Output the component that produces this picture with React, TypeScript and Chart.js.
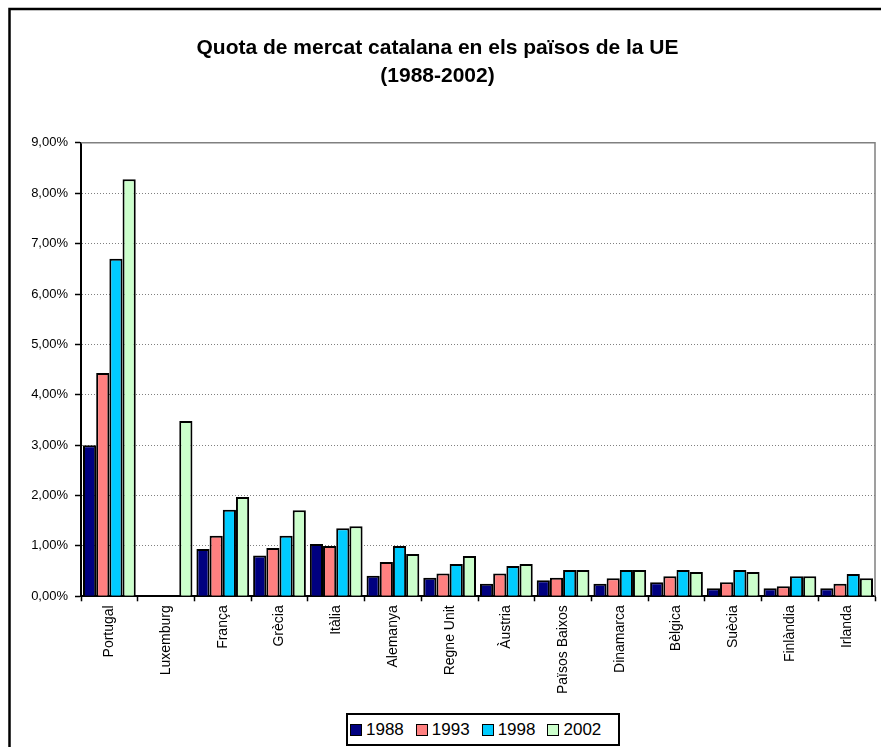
import React, { useEffect, useRef } from "react";
import { Chart, registerables } from "chart.js";

Chart.register(...registerables);

const categories = [
  "Portugal", "Luxemburg", "França", "Grècia", "Itàlia", "Alemanya", "Regne Unit",
  "Àustria", "Països Baixos", "Dinamarca", "Bèlgica", "Suècia", "Finlàndia", "Irlanda",
];
const years = ["1988", "1993", "1998", "2002"];
const values1988 = [3.0, null, 0.94, 0.81, 1.04, 0.41, 0.37, 0.25, 0.32, 0.25, 0.28, 0.16, 0.16, 0.16];
const values1993 = [4.43, null, 1.2, 0.96, 1.0, 0.68, 0.45, 0.45, 0.37, 0.36, 0.4, 0.28, 0.2, 0.25];
const values1998 = [6.7, null, 1.72, 1.2, 1.35, 1.0, 0.64, 0.6, 0.52, 0.52, 0.52, 0.52, 0.4, 0.44];
const values2002 = [8.28, 3.48, 1.97, 1.71, 1.39, 0.84, 0.8, 0.64, 0.52, 0.52, 0.48, 0.48, 0.4, 0.36];
const seriesValues = [values1988, values1993, values1998, values2002];
const seriesColors = ["#000080", "#FF8080", "#00CCFF", "#CCFFCC"];
const titleLines = ["Quota de mercat catalana en els països de la UE", "(1988-2002)"];

const FONT = '"Liberation Sans", Arial, sans-serif';

const framePlugin = {
  id: "framePlugin",
  beforeDatasetsDraw(chart: any) {
    const { ctx, chartArea } = chart;
    ctx.save();
    ctx.strokeStyle = "#808080";
    ctx.lineWidth = 1.5;
    ctx.beginPath();
    ctx.moveTo(chartArea.left, chartArea.top);
    ctx.lineTo(chartArea.right, chartArea.top);
    ctx.lineTo(chartArea.right, chartArea.bottom);
    ctx.stroke();
    ctx.restore();
  },
  afterDraw(chart: any) {
    const { ctx } = chart;
    ctx.save();
    ctx.strokeStyle = "#000000";
    ctx.lineWidth = 2.5;
    ctx.strokeRect(9.5, 9, 3000, 3000);
    ctx.restore();
  },
};

export default function App() {
  const canvasRef = useRef<HTMLCanvasElement | null>(null);

  useEffect(() => {
    if (!canvasRef.current) return;
    const chart = new Chart(canvasRef.current, {
      type: "bar",
      data: {
        labels: categories,
        datasets: years.map((y, i) => ({
          label: y,
          data: seriesValues[i],
          backgroundColor: seriesColors[i],
          borderColor: "#000000",
          borderWidth: 2,
          categoryPercentage: 0.93,
          barPercentage: 1.0,
        })),
      },
      options: {
        animation: false,
        responsive: true,
        maintainAspectRatio: false,
        devicePixelRatio: 1,
        layout: { padding: { top: 0, right: 6, bottom: 49, left: 0 } },
        plugins: {
          legend: { display: false },
          tooltip: { enabled: false },
          title: {
            display: true,
            text: titleLines,
            color: "#000000",
            font: { family: FONT, size: 21, weight: "bold", lineHeight: 1.33 },
            padding: { top: 34, bottom: 53 },
          },
        },
        scales: {
          x: {
            offset: true,
            grid: {
              offset: true,
              drawOnChartArea: false,
              drawTicks: true,
              tickLength: 5,
              tickColor: "#000000",
              tickWidth: 1.5,
            },
            border: { display: true, color: "#000000", width: 2 },
            ticks: {
              color: "#000000",
              font: { family: FONT, size: 14 },
              minRotation: 90,
              maxRotation: 90,
              padding: 4,
              autoSkip: false,
            },
          },
          y: {
            min: 0,
            max: 9,
            afterFit: (scale: any) => {
              scale.width = 81;
            },
            grid: {
              color: "#808080",
              lineWidth: 1,
              drawTicks: true,
              tickLength: 6,
              tickColor: "#000000",
              tickWidth: 1.5,
            },
            border: { display: true, color: "#000000", width: 2, dash: [1, 2] },
            ticks: {
              stepSize: 1,
              color: "#000000",
              padding: 7,
              font: { family: FONT, size: 13 },
              callback: (v: any) => Number(v).toFixed(2).replace(".", ",") + "%",
            },
          },
        },
      },
      plugins: [framePlugin],
    } as any);
    return () => chart.destroy();
  }, []);

  return (
    <div
      style={{
        position: "absolute",
        left: 0,
        top: 0,
        width: 881,
        height: 747,
        background: "#ffffff",
        overflow: "hidden",
      }}
    >
      <canvas ref={canvasRef} />
      <div
        style={{
          position: "absolute",
          left: 346,
          top: 713,
          width: 268,
          height: 29,
          border: "2px solid #000000",
          background: "#ffffff",
          display: "flex",
          alignItems: "center",
          paddingLeft: 2,
          fontFamily: FONT,
          fontSize: 17,
          color: "#000000",
          boxSizing: "content-box",
        }}
      >
        {years.map((y, i) => (
          <div key={y} style={{ display: "flex", alignItems: "center", marginRight: 12 }}>
            <span
              style={{
                display: "inline-block",
                width: 10,
                height: 10,
                border: "1.5px solid #000000",
                background: seriesColors[i],
                marginRight: 4,
              }}
            />
            <span style={{ lineHeight: "17px" }}>{y}</span>
          </div>
        ))}
      </div>
    </div>
  );
}
